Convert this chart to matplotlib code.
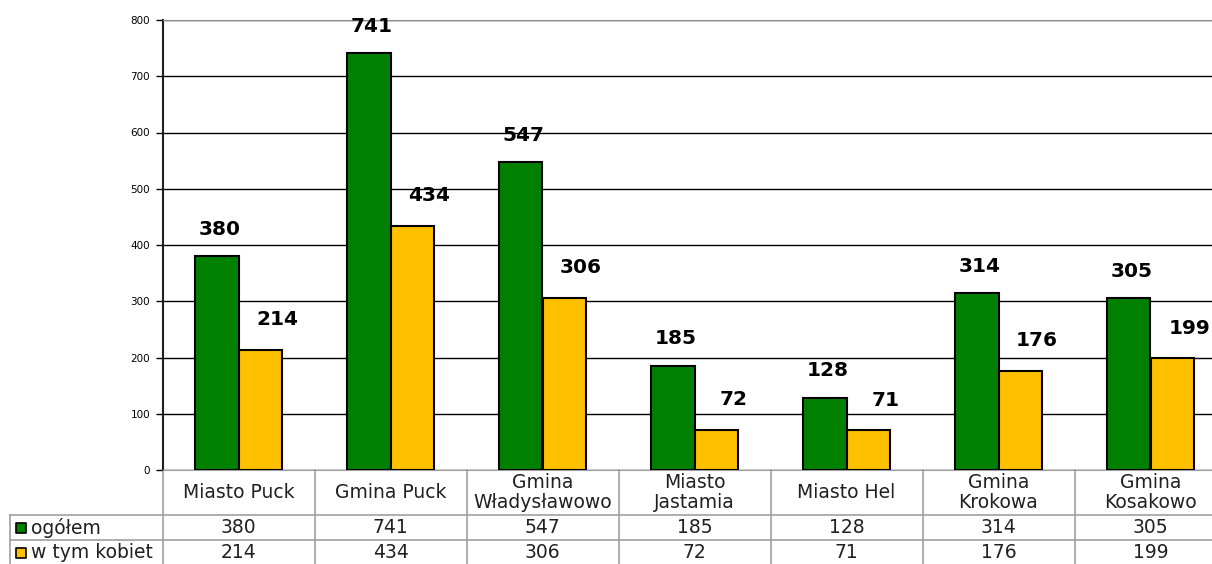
import numpy as np
import matplotlib
matplotlib.use("Agg")
import matplotlib.pyplot as plt

plt.rcParams["font.family"] = ["DejaVu Sans"]

# dane
gminy = ["Miasto Puck", "Gmina Puck", "Gmina\nWładysławowo", "Miasto\nJastamia",
         "Miasto Hel", "Gmina\nKrokowa", "Gmina\nKosakowo"]
ogolem = [380, 741, 547, 185, 128, 314, 305]
kobiety = [214, 434, 306, 72, 71, 176, 199]
serie = ["ogółem", "w tym kobiet"]
kolory = ["#008000", "#ffc000"]

W, H = 1212, 564
fig = plt.figure(figsize=(W / 100, H / 100), dpi=100)
ax = fig.add_axes([162.5 / W, 94 / H, 1064 / W, 450 / H])

x = np.arange(len(gminy))
w = 0.285
ax.bar(x - w / 2, ogolem, w, color=kolory[0], edgecolor="black", linewidth=1.5, zorder=3)
ax.bar(x + w / 2, kobiety, w, color=kolory[1], edgecolor="black", linewidth=1.5, zorder=3)

for xi, v in zip(x, ogolem):
    ax.annotate(str(v), (xi - w / 2, v), xytext=(3, 27), textcoords="offset pixels",
                ha="center", va="center", fontsize=14.5, fontweight="bold", zorder=4)
for xi, v in zip(x, kobiety):
    ax.annotate(str(v), (xi + w / 2, v), xytext=(17, 30), textcoords="offset pixels",
                ha="center", va="center", fontsize=14.5, fontweight="bold", zorder=4)

ax.set_xlim(-0.5, 6.5)
ax.set_ylim(0, 800)
ax.set_yticks(range(0, 801, 100))
ax.tick_params(axis="y", labelsize=7.5, length=5, width=1, direction="out", pad=4)
ax.set_xticks([])
ax.yaxis.grid(True, color="black", linewidth=1)
ax.set_axisbelow(True)
ax.spines["right"].set_visible(False)
ax.spines["top"].set_color("#909090")
ax.spines["bottom"].set_color("#a0a0a0")
ax.spines["left"].set_color("#202020")
ax.spines["left"].set_linewidth(1.5)

# tabela danych pod wykresem
tr = ax.get_xaxis_transform()
r0, r1, r2, r3 = 0.0, -45 / 450, -70 / 450, -96 / 450
xl = -0.5 - 152.5 / 152
lc = "#a0a0a0"
for k in range(len(gminy) + 1):
    ax.plot([k - 0.5, k - 0.5], [r0, r3], transform=tr, color=lc, lw=1.2, clip_on=False)
ax.plot([xl, xl], [r1, r3], transform=tr, color=lc, lw=1.2, clip_on=False)
for r in (r1, r2):
    ax.plot([xl, 6.5], [r, r], transform=tr, color=lc, lw=1.2, clip_on=False)

fs = 13.5
for xi, g, a, b in zip(x, gminy, ogolem, kobiety):
    ax.text(xi, (r0 + r1) / 2, g, transform=tr, ha="center", va="center",
            fontsize=fs, linespacing=1.0, color="#202020")
    ax.text(xi, (r1 + r2) / 2, str(a), transform=tr, ha="center", va="center",
            fontsize=fs, color="#202020")
    ax.text(xi, (r2 + r3) / 2, str(b), transform=tr, ha="center", va="center",
            fontsize=fs, color="#202020")

for r_top, r_bot, s, c in zip((r1, r2), (r2, r3), serie, kolory):
    yc = (r_top + r_bot) / 2
    ax.scatter([xl + 0.07], [yc], transform=tr, marker="s", s=55, color=c,
               edgecolor="black", linewidth=1.2, clip_on=False, zorder=5)
    ax.text(xl + 0.135, yc, s, transform=tr, ha="left", va="center",
            fontsize=fs, color="#202020")

fig.savefig("out.png", dpi=100)
